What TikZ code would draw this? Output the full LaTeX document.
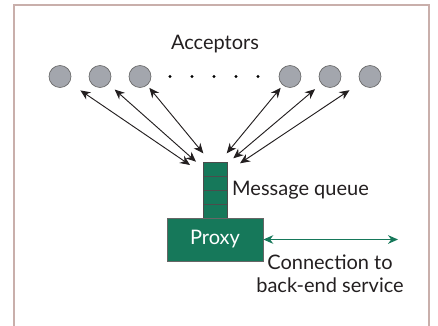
\documentclass[tikz,border=0pt]{standalone}
\usepackage{fontspec}
\setmainfont{Lato}
\usepackage{xcolor}
\usepackage{tikz}
\usetikzlibrary{arrows.meta}

\definecolor{framec}{HTML}{C9AFAB}
\definecolor{proxyg}{HTML}{16785A}
\definecolor{dotg}{HTML}{A3A6AD}
\definecolor{inkc}{HTML}{231F20}

\tikzset{
  acceptor/.style={circle,draw=black!60,fill=dotg,line width=0.5pt,minimum size=16.5pt,inner sep=0pt},
  cell/.style={rectangle,draw=black!70,fill=proxyg,line width=0.5pt,minimum width=18pt,minimum height=10.5pt,inner sep=0pt},
  link/.style={{Stealth[length=7.5pt,width=6.5pt]}-{Stealth[length=7.5pt,width=6.5pt]},line width=0.7pt,inkc},
  label/.style={text=inkc,font=\fontsize{15}{17.5}\selectfont}
}

\begin{document}
\begin{tikzpicture}[x=0.75pt,y=-0.75pt]
\useasboundingbox (0,0) rectangle (438,325);
\draw[framec,line width=1.5pt] (14,330) -- (14,4.5) -- (429,4.5) -- (429,330);

% acceptors
\node[label] (acc) at (215,44) {Acceptors};
\node[acceptor] (a1) at (60,76.5) {};
\node[acceptor] (a2) at (100,76.5) {};
\node[acceptor] (a3) at (140,76.5) {};
\node[acceptor] (a4) at (290,76.5) {};
\node[acceptor] (a5) at (330,76.5) {};
\node[acceptor] (a6) at (370,76.5) {};
\fill[black] (170,76.5) circle (1.6);
\fill[black] (192,76.5) circle (1.6);
\fill[black] (214,76.5) circle (1.6);
\fill[black] (236,76.5) circle (1.6);
\fill[black] (258,76.5) circle (1.6);

% message queue
\node[cell] (q4) at (215,211.3) {};
\node[cell] (q3) at (215,197.3) {};
\node[cell] (q2) at (215,183.3) {};
\node[cell] (q1) at (215,169) {};
\node[label,anchor=west] (mq) at (227.5,190) {Message queue};

% proxy
\node[rectangle,draw=black!60,fill=proxyg,line width=0.5pt,minimum width=72pt,minimum height=32pt,
      text=white,font=\fontsize{15}{17.5}\selectfont] (proxy) at (215,239.5) {Proxy};
\coordinate (be) at (398,239.5);
\draw[{Stealth[length=7.5pt,width=6.5pt]}-{Stealth[length=7.5pt,width=6.5pt]},line width=0.8pt,proxyg] (proxy.east) -- (be);
\node[label,align=center] (conn) at (330,273.5) {Connection to\\back-end service};

% arrows to the queue
\coordinate (t1) at (190,165);
\coordinate (t2) at (196,161.7);
\coordinate (t3) at (203.3,153.3);
\coordinate (t4) at (226.7,153.3);
\coordinate (t5) at (233.3,158.3);
\coordinate (t6) at (240,163.3);
\draw[link,shorten <=10pt] (a1) -- (t1);
\draw[link,shorten <=6.2pt] (a2) -- (t2);
\draw[link,shorten <=2.5pt] (a3) -- (t3);
\draw[link,shorten <=2.5pt] (a4) -- (t4);
\draw[link,shorten <=6.2pt] (a5) -- (t5);
\draw[link,shorten <=10pt] (a6) -- (t6);
\end{tikzpicture}
\end{document}
